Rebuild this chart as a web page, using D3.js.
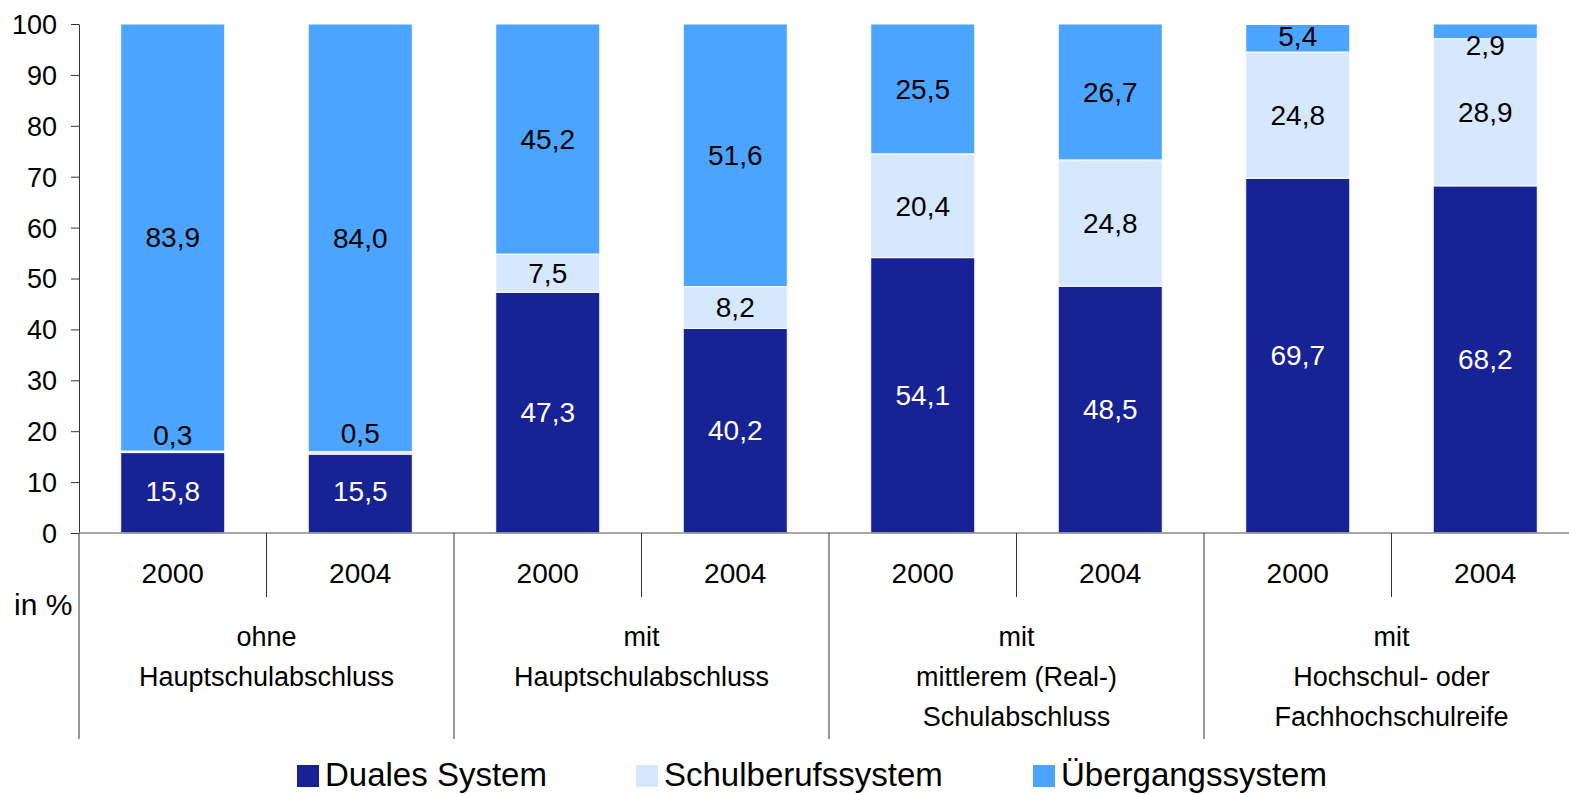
<!DOCTYPE html>
<html>
<head>
<meta charset="utf-8">
<script src="https://cdn.jsdelivr.net/npm/d3@7"></script>
<style>
  body { margin: 0; background: #fff; }
  text { font-family: "Liberation Sans", Arial, sans-serif; }
</style>
</head>
<body>
<div id="chart"></div>
<script>
var w = 1569;
var h = 794;

// data
var years = ["2000", "2004", "2000", "2004", "2000", "2004", "2000", "2004"];
var groups = [
  ["ohne", "Hauptschulabschluss"],
  ["mit", "Hauptschulabschluss"],
  ["mit", "mittlerem (Real-)", "Schulabschluss"],
  ["mit", "Hochschul- oder", "Fachhochschulreife"]
];
var seriesNames = ["Duales System", "Schulberufssystem", "Übergangssystem"];
var duales = [15.8, 15.5, 47.3, 40.2, 54.1, 48.5, 69.7, 68.2];
var schulberufs = [0.3, 0.5, 7.5, 8.2, 20.4, 24.8, 24.8, 28.9];
var uebergang = [83.9, 84.0, 45.2, 51.6, 25.5, 26.7, 5.4, 2.9];
var yTicks = [0, 10, 20, 30, 40, 50, 60, 70, 80, 90, 100];

var colors = ["#172394", "#d5e8fe", "#4ba4ff"];
var labelColors = ["#fff", "#000", "#000"];
// small label nudges (px) so tiny segments stay readable
var labelShift = [
  [-2, -2, 0, 0, 0, 0, 0, 0],
  [-17, -20, 0, 0, 0, 0, 0, 0],
  [0, 0, 0, 0, 0, 0, -2, 14]
];

var rows = years.map(function (y, i) {
  return { idx: String(i), s0: duales[i], s1: schulberufs[i], s2: uebergang[i] };
});

var svg = d3.select("#chart").append("svg").attr("width", w).attr("height", h);

var xScale = d3.scaleBand()
  .domain(rows.map((d) => d.idx))
  .range([79, 1579])
  .paddingInner(0.445)
  .paddingOuter(0.2225);

var yScale = d3.scaleLinear().domain([0, 100]).range([533, 24]);

var stack = d3.stack().keys(["s0", "s1", "s2"]);
var layers = stack(rows);

// bars
var layerG = svg.selectAll("g.layer")
  .data(layers)
  .enter()
  .append("g")
  .attr("class", "layer")
  .attr("fill", (d, i) => colors[i]);

layerG.selectAll("rect")
  .data((d) => d)
  .enter()
  .append("rect")
  .attr("x", (d) => xScale(d.data.idx))
  .attr("width", xScale.bandwidth())
  .attr("y", (d) => yScale(d[1]))
  .attr("height", (d) => yScale(d[0]) - yScale(d[1]))
  .attr("stroke", "#fff")
  .attr("stroke-width", 1);

// value labels
layers.forEach(function (layer, li) {
  svg.append("g")
    .selectAll("text")
    .data(layer)
    .enter()
    .append("text")
    .attr("x", (d) => xScale(d.data.idx) + xScale.bandwidth() / 2)
    .attr("y", (d, i) => yScale((d[0] + d[1]) / 2) + labelShift[li][i])
    .attr("dy", "0.35em")
    .attr("text-anchor", "middle")
    .attr("font-size", "28px")
    .attr("fill", labelColors[li])
    .text((d) => d3.format(".1f")(d[1] - d[0]).replace(".", ","));
});

// y axis
var yAxis = d3.axisLeft(yScale).tickValues(yTicks).tickSize(8).tickSizeOuter(0).tickPadding(14);
var yg = svg.append("g").attr("transform", "translate(79,0)").call(yAxis);
yg.selectAll("text").attr("font-size", "27px").attr("fill", "#000");
yg.selectAll("line").attr("stroke", "#333");
yg.select(".domain").attr("stroke", "#333");
yg.selectAll(".tick text").attr("dy", "0.35em");

// baseline
svg.append("line")
  .attr("x1", 79).attr("x2", w)
  .attr("y1", yScale(0)).attr("y2", yScale(0))
  .attr("stroke", "#888").attr("stroke-width", 1.5);

// category separators
var step = xScale.step();
var x0 = 79;
d3.range(0, 9).forEach(function (i) {
  var long = i % 2 === 0;
  svg.append("line")
    .attr("x1", x0 + i * step).attr("x2", x0 + i * step)
    .attr("y1", yScale(0)).attr("y2", long ? 739 : 597)
    .attr("stroke", "#333").attr("stroke-width", 1);
});

// year labels
svg.append("g")
  .selectAll("text")
  .data(rows)
  .enter()
  .append("text")
  .attr("x", (d) => xScale(d.idx) + xScale.bandwidth() / 2)
  .attr("y", 583)
  .attr("text-anchor", "middle")
  .attr("font-size", "28px")
  .attr("fill", "#000")
  .text((d, i) => years[i]);

// group labels
groups.forEach(function (lines, gi) {
  var cx = x0 + (gi * 2 + 1) * step;
  var t = svg.append("text")
    .attr("x", cx)
    .attr("y", 646)
    .attr("text-anchor", "middle")
    .attr("font-size", "27px")
    .attr("fill", "#000");
  lines.forEach(function (ln, k) {
    t.append("tspan").attr("x", cx).attr("dy", k === 0 ? 0 : 40).text(ln);
  });
});

svg.append("text")
  .attr("x", 14).attr("y", 615)
  .attr("font-size", "30px")
  .attr("fill", "#000")
  .text("in %");

// legend
var legendX = [297, 636, 1033];
var legend = svg.append("g")
  .selectAll("g")
  .data(seriesNames)
  .enter()
  .append("g")
  .attr("transform", (d, i) => "translate(" + legendX[i] + ",765)");

legend.append("rect")
  .attr("width", 22).attr("height", 22)
  .attr("fill", (d, i) => colors[i]);

legend.append("text")
  .attr("x", 28).attr("y", 21)
  .attr("font-size", "33px")
  .attr("fill", "#000")
  .text((d) => d);
</script>
</body>
</html>
